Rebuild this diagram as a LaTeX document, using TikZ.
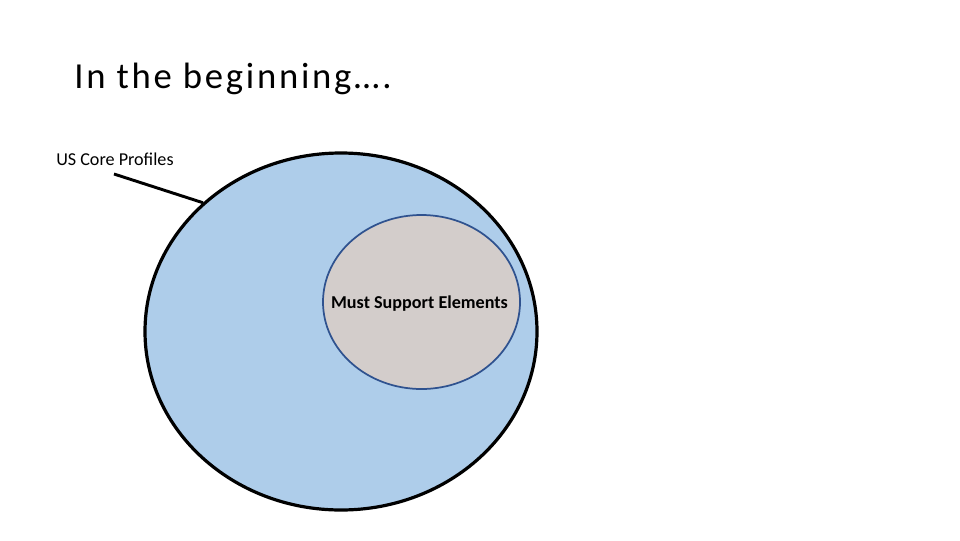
\documentclass[tikz,border=0pt]{standalone}
\usepackage{fontspec}
\setmainfont{Carlito}
\newfontfamily\titlefont[LetterSpace=7.5]{Carlito}
\usetikzlibrary{shapes.geometric}
\definecolor{outerfill}{RGB}{174,205,234}
\definecolor{innerfill}{RGB}{211,205,203}
\definecolor{innerdraw}{RGB}{47,82,143}
\tikzset{
  outerset/.style={ellipse, draw=black, line width=2.4pt, fill=outerfill,
    minimum width=294pt, minimum height=267.75pt, inner sep=0pt},
  innerset/.style={ellipse, draw=innerdraw, line width=1.3pt, fill=innerfill,
    minimum width=147.75pt, minimum height=130.5pt, inner sep=0pt},
  titleset/.style={inner sep=0pt, anchor=base west, font=\titlefont\fontsize{27.5}{31}\selectfont},
  labelset/.style={inner sep=0pt, font=\fontsize{13.6}{16}\selectfont},
  leader/.style={draw=black, line width=2.2pt}
}
\begin{document}
\begin{tikzpicture}[x=0.75pt,y=-0.75pt]
\useasboundingbox (0,0) rectangle (960,540);
\node[titleset] (title) at (74,88) {In the beginning….};
\node[outerset] (big) at (341,331.5) {};
\node[innerset] (small) at (421.5,302) {};
\node[labelset, anchor=base] (ms) at (419.5,308) {\textbf{Must Support Elements}};
\node[labelset, anchor=base west] (us) at (56,165) {US Core Profiles};
\coordinate (lstart) at (114,174);
\draw[leader] (lstart) -- (big.137);
\end{tikzpicture}
\end{document}
